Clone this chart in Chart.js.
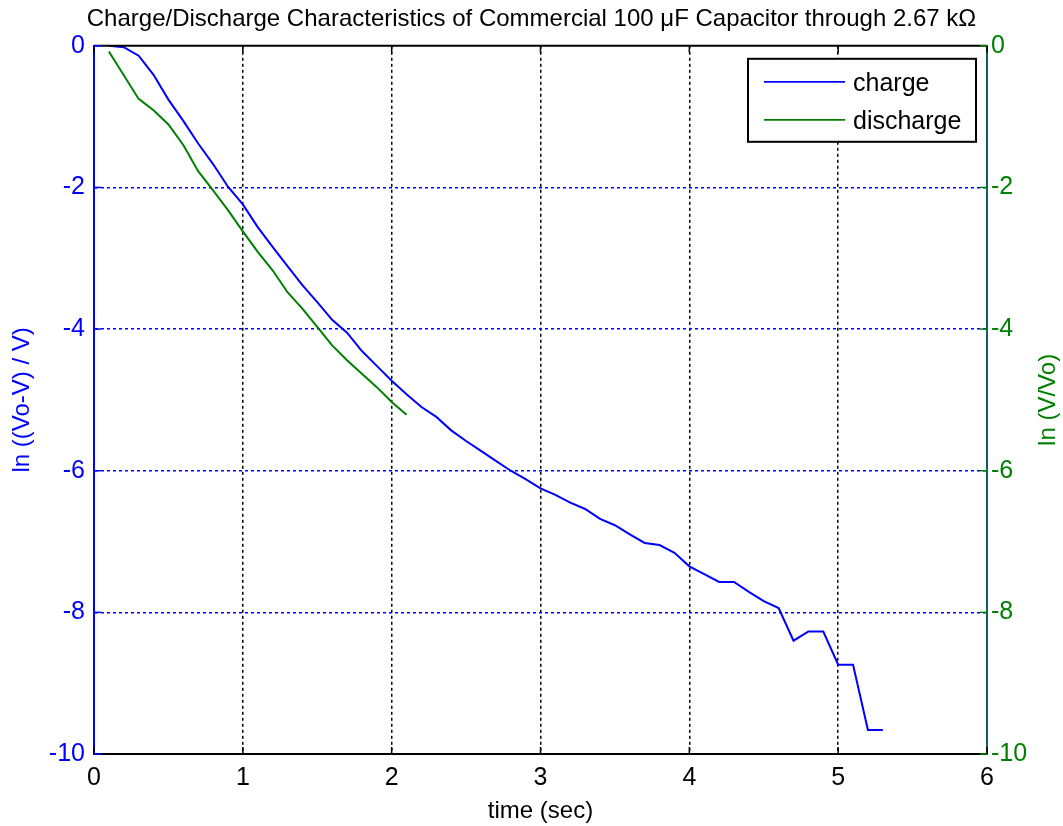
<!DOCTYPE html>
<html>
<head>
<meta charset="utf-8">
<script src="https://cdn.jsdelivr.net/npm/chart.js@4.4.1/dist/chart.umd.min.js"></script>
<style>
    body { margin: 0; background: #fff; }
    canvas { display: block; }
</style>
</head>
<body>
<canvas id="cap-chart" width="1063" height="826"></canvas>
<script>
// Data
var chargeTime = [0.1, 0.2, 0.3, 0.4, 0.5, 0.6, 0.7, 0.8, 0.9, 1.0,
    1.1, 1.2, 1.3, 1.4, 1.5, 1.6, 1.7, 1.8, 1.9, 2.0,
    2.1, 2.2, 2.3, 2.4, 2.5, 2.6, 2.7, 2.8, 2.9, 3.0,
    3.1, 3.2, 3.3, 3.4, 3.5, 3.6, 3.7, 3.8, 3.9, 4.0,
    4.1, 4.2, 4.3, 4.4, 4.5, 4.6, 4.7, 4.8, 4.9, 5.0,
    5.1, 5.2, 5.3];
var chargeLn = [0, -0.02, -0.14, -0.41, -0.76, -1.06, -1.38, -1.67, -1.99, -2.24,
    -2.56, -2.84, -3.11, -3.38, -3.62, -3.87, -4.05, -4.31, -4.52, -4.73,
    -4.92, -5.10, -5.24, -5.43, -5.58, -5.72, -5.86, -6.00, -6.12, -6.25,
    -6.34, -6.45, -6.54, -6.68, -6.77, -6.90, -7.02, -7.05, -7.16, -7.35,
    -7.46, -7.57, -7.57, -7.71, -7.84, -7.94, -8.40, -8.27, -8.27, -8.74,
    -8.74, -9.66, -9.66];

var dischargeTime = [0.1, 0.3, 0.4, 0.5, 0.6, 0.7, 0.8, 0.9, 1.0,
    1.1, 1.2, 1.3, 1.4, 1.5, 1.6, 1.7, 1.8, 1.9, 2.0, 2.1];
var dischargeLn = [-0.08, -0.75, -0.91, -1.11, -1.40, -1.77, -2.04, -2.32, -2.62,
    -2.91, -3.17, -3.48, -3.71, -3.97, -4.23, -4.44, -4.63, -4.82, -5.03, -5.21];

var xTicks = [0, 1, 2, 3, 4, 5, 6];
var yTicks = [-10, -8, -6, -4, -2, 0];

var BLUE = '#0000ff';
var GREEN = '#008000';
var FONT = 'Arial, "Liberation Sans", Helvetica, sans-serif';

function toPoints(xs, ys) {
    return xs.map(function (x, i) { return { x: x, y: ys[i] }; });
}

// legend box, right axis title, frame top and inward ticks
var extras = {
    id: 'extras',
    afterDraw: function (chart) {
        var ctx = chart.ctx;
        var a = chart.chartArea;
        ctx.save();

        // top frame
        ctx.strokeStyle = '#000';
        ctx.lineWidth = 2;
        ctx.beginPath();
        ctx.moveTo(a.left, a.top);
        ctx.lineTo(a.right, a.top);
        ctx.stroke();

        // inward ticks
        var xs = chart.scales.x, ys = chart.scales.y;
        ctx.lineWidth = 1.5;
        xTicks.forEach(function (v) {
            var px = xs.getPixelForValue(v);
            ctx.strokeStyle = '#000';
            ctx.beginPath();
            ctx.moveTo(px, a.bottom); ctx.lineTo(px, a.bottom - 7);
            ctx.moveTo(px, a.top); ctx.lineTo(px, a.top + 7);
            ctx.stroke();
        });
        yTicks.forEach(function (v) {
            var py = ys.getPixelForValue(v);
            ctx.strokeStyle = BLUE;
            ctx.beginPath();
            ctx.moveTo(a.left, py); ctx.lineTo(a.left + 7, py);
            ctx.stroke();
            ctx.strokeStyle = GREEN;
            ctx.beginPath();
            ctx.moveTo(a.right, py); ctx.lineTo(a.right - 7, py);
            ctx.stroke();
        });

        // right axis title, reading bottom to top
        ctx.fillStyle = GREEN;
        ctx.font = '24px ' + FONT;
        ctx.textAlign = 'center';
        ctx.textBaseline = 'middle';
        ctx.translate(1048, (a.top + a.bottom) / 2);
        ctx.rotate(-Math.PI / 2);
        ctx.fillText('ln (V/Vo)', 0, 0);
        ctx.restore();

        // legend
        ctx.save();
        var bx = a.right - 239, by = a.top + 13, bw = 228, bh = 83;
        ctx.fillStyle = '#fff';
        ctx.fillRect(bx, by, bw, bh);
        ctx.strokeStyle = '#000';
        ctx.lineWidth = 2;
        ctx.strokeRect(bx, by, bw, bh);
        ctx.font = '25px ' + FONT;
        ctx.textAlign = 'left';
        ctx.textBaseline = 'middle';
        chart.data.datasets.forEach(function (ds, i) {
            var ly = by + 23 + i * 38;
            ctx.strokeStyle = ds.borderColor;
            ctx.lineWidth = 1.8;
            ctx.beginPath();
            ctx.moveTo(bx + 16, ly);
            ctx.lineTo(bx + 97, ly);
            ctx.stroke();
            ctx.fillStyle = '#000';
            ctx.fillText(ds.label, bx + 105, ly + 2);
        });
        ctx.restore();
    }
};

var ctx = document.getElementById('cap-chart').getContext('2d');
var chart = new Chart(ctx, {
    type: 'line',
    data: {
        datasets: [
            {
                label: 'charge',
                data: toPoints(chargeTime, chargeLn),
                borderColor: BLUE,
                borderWidth: 2,
                pointRadius: 0,
                tension: 0,
                yAxisID: 'y',
            },
            {
                label: 'discharge',
                data: toPoints(dischargeTime, dischargeLn),
                borderColor: GREEN,
                borderWidth: 2,
                pointRadius: 0,
                tension: 0,
                yAxisID: 'y2',
            },
        ],
    },
    options: {
        responsive: false,
        animation: false,
        devicePixelRatio: 1,
        layout: { padding: 0 },
        plugins: {
            legend: { display: false },
            tooltip: { enabled: false },
            title: {
                display: true,
                text: 'Charge/Discharge Characteristics of Commercial 100 \u03BCF Capacitor through 2.67 k\u03A9',
                color: '#000',
                font: { family: FONT, size: 24, weight: 'normal', lineHeight: 1.2 },
                padding: { top: 5, bottom: 12 },
            },
        },
        scales: {
            x: {
                type: 'linear',
                min: 0,
                max: 6,
                afterFit: function (s) { s.height = 72; },
                afterBuildTicks: function (s) { s.ticks = xTicks.map(function (v) { return { value: v }; }); },
                ticks: { color: '#000', font: { family: FONT, size: 25 }, padding: 9 },
                grid: {
                    drawTicks: false,
                    lineWidth: 1.5,
                    color: function (c) { return (c.tick && (c.tick.value === 0 || c.tick.value === 6)) ? 'rgba(0,0,0,0)' : '#000'; },
                },
                border: { color: '#000', width: 2, dash: [3, 3] },
                title: {
                    display: true,
                    text: 'time (sec)',
                    color: '#000',
                    font: { family: FONT, size: 24, lineHeight: 1.2 },
                    padding: { top: 0, bottom: 0 },
                },
            },
            y: {
                position: 'left',
                min: -10,
                max: 0,
                afterFit: function (s) { s.width = 94; },
                afterBuildTicks: function (s) { s.ticks = yTicks.map(function (v) { return { value: v }; }); },
                ticks: { color: BLUE, font: { family: FONT, size: 25 }, padding: 9 },
                grid: {
                    drawTicks: false,
                    lineWidth: 1.5,
                    color: function (c) { return (c.tick && (c.tick.value === 0 || c.tick.value === -10)) ? 'rgba(0,0,0,0)' : BLUE; },
                },
                border: { color: BLUE, width: 2, dash: [3, 3] },
                title: {
                    display: true,
                    text: 'ln ((Vo-V) / V)',
                    color: BLUE,
                    font: { family: FONT, size: 24, lineHeight: 1.2 },
                    padding: { top: 8, bottom: 0 },
                },
            },
            y2: {
                position: 'right',
                min: -10,
                max: 0,
                afterFit: function (s) { s.width = 76; },
                afterBuildTicks: function (s) { s.ticks = yTicks.map(function (v) { return { value: v }; }); },
                ticks: { color: GREEN, font: { family: FONT, size: 25 }, padding: 4 },
                grid: { drawOnChartArea: false, drawTicks: false },
                border: { color: '#0f5f66', width: 2 },
            },
        },
    },
    plugins: [extras],
});
</script>
</body>
</html>
